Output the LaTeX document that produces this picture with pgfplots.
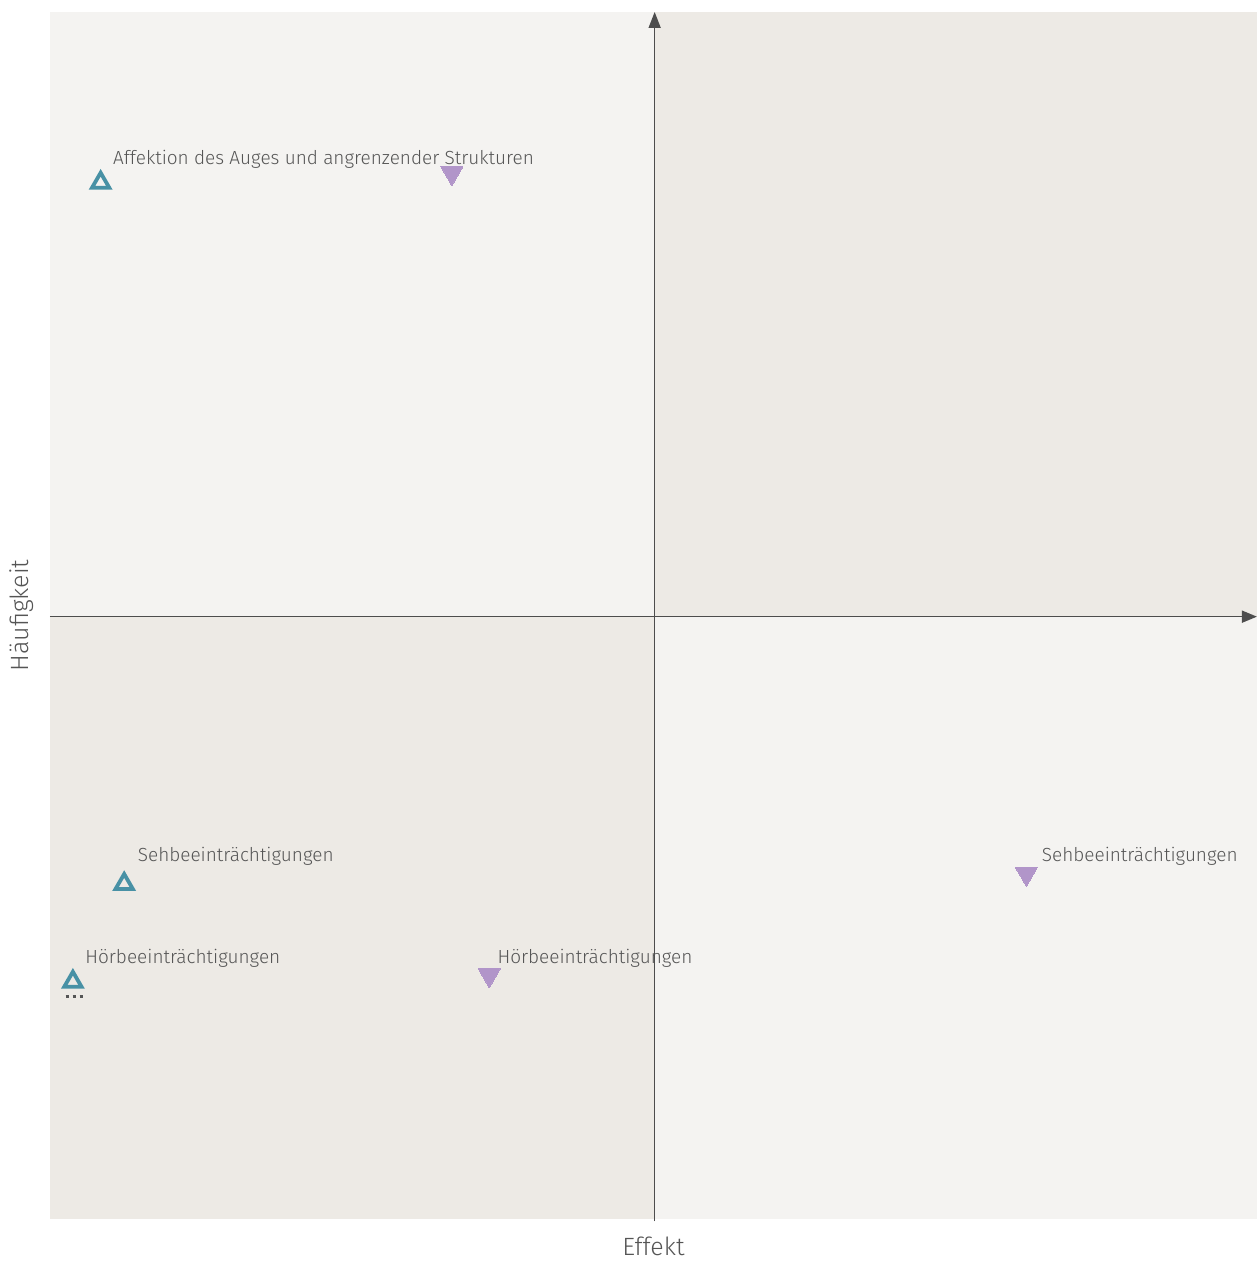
\documentclass[border=0pt]{standalone}
\usepackage{fontspec}
\setmainfont{Fira Sans Light}
\usepackage{pgfplots}
\pgfplotsset{compat=1.18}
\usetikzlibrary{arrows.meta}
\definecolor{bglight}{RGB}{244,243,241}
\definecolor{bgdark}{RGB}{237,234,229}
\definecolor{axgray}{RGB}{77,77,77}
\definecolor{txtgray}{RGB}{85,85,85}
\definecolor{teal}{RGB}{72,145,165}
\definecolor{lilac}{RGB}{177,149,201}
\begin{document}
\begin{tikzpicture}
\begin{axis}[
  width=604pt, height=604pt, scale only axis,
  xmin=-1, xmax=1, ymin=-1, ymax=1,
  axis lines=none, clip=false,
  /pgf/number format/assume math mode=true,
]
% quadrant backgrounds
\addplot[fill=bglight, draw=none] coordinates {(-1,-0.002) (0.002,-0.002) (0.002,1) (-1,1)} -- cycle;
\addplot[fill=bgdark, draw=none] coordinates {(0.002,-0.002) (1,-0.002) (1,1) (0.002,1)} -- cycle;
\addplot[fill=bgdark, draw=none] coordinates {(-1,-1) (0.002,-1) (0.002,-0.002) (-1,-0.002)} -- cycle;
\addplot[fill=bglight, draw=none] coordinates {(0.002,-1) (1,-1) (1,-0.002) (0.002,-0.002)} -- cycle;
% axes
\draw[axgray, line width=0.8pt, -{Triangle[length=7.5pt,width=6pt]}] (axis cs:-1,-0.002) -- (axis cs:1,-0.002);
\draw[axgray, line width=0.8pt, -{Triangle[length=8pt,width=6pt]}] (axis cs:0.002,-1.004) -- (axis cs:0.002,1);
% dotted line
\addplot[color=txtgray, line width=1.5pt, dash pattern=on 1.5pt off 2.0pt] coordinates {(-0.974,-0.632) (-0.944,-0.632)};
% teal series
\addplot[color=teal, only marks, mark=triangle, mark size=5pt, mark options={draw=teal, line width=1.9pt, fill=none}]
  coordinates {(-0.916,0.717) (-0.877,-0.445) (-0.962,-0.607)};
% lilac series
\addplot[color=lilac, only marks, mark=triangle*, mark size=6.3pt, mark options={rotate=180, fill=lilac, draw=lilac, line width=0pt}]
  coordinates {(-0.334,0.733) (-0.272,-0.596) (0.618,-0.428)};
% labels
\begin{scope}[every node/.style={font=\fontsize{9.5}{11}\selectfont, text=txtgray, inner sep=0pt, anchor=west}]
\node at (axis cs:-0.896,0.756) {Affektion des Auges und angrenzender Strukturen};
\node at (axis cs:-0.855,-0.399) {Sehbeeintr\"achtigungen};
\node at (axis cs:-0.942,-0.568) {H\"orbeeintr\"achtigungen};
\node at (axis cs:-0.259,-0.568) {H\"orbeeintr\"achtigungen};
\node at (axis cs:0.643,-0.399) {Sehbeeintr\"achtigungen};
\end{scope}
\node[font=\fontsize{12.5}{14}\selectfont, text=txtgray] at ([yshift=-13.5pt]rel axis cs:0.5,0) {Effekt};
\node[font=\fontsize{12.5}{14}\selectfont, text=txtgray, rotate=90] at ([xshift=-14pt]rel axis cs:0,0.5) {H\"aufigkeit};
\end{axis}
\path ([shift={(-25pt,-21pt)}]current axis.south west) rectangle ([shift={(0pt,6pt)}]current axis.north east);
\end{tikzpicture}
\end{document}
